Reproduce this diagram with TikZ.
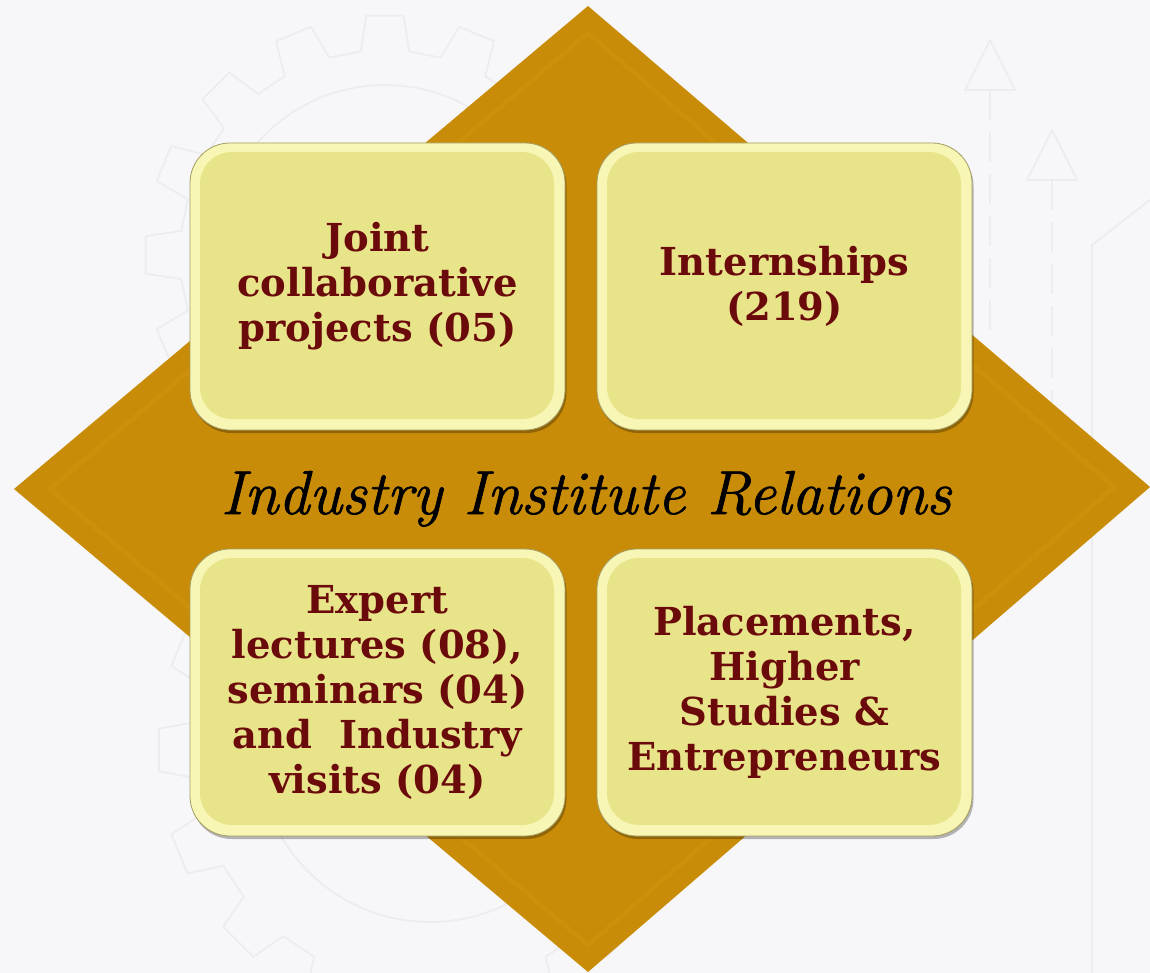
\documentclass[tikz,border=0pt]{standalone}
\usepackage{fontspec}
\newfontfamily\tilefont{DejaVu Serif}
\newfontfamily\headingfont[FakeBold=1.2]{Latin Modern Roman}
\usetikzlibrary{calc}

\definecolor{pagebg}{HTML}{F7F7F9}
\definecolor{markline}{HTML}{EDEDF0}
\definecolor{gold}{HTML}{C98C08}
\definecolor{goldinner}{HTML}{CD900B}
\definecolor{tilefill}{HTML}{E8E48A}
\definecolor{tilerim}{HTML}{F8F6B4}
\definecolor{tileedge}{HTML}{A39D64}
\definecolor{tiletext}{HTML}{6B0A0A}

\tikzset{
  watermark/.style={draw=markline, line width=1.8pt, line join=round},
  tile/.style={
    rounded corners=40pt, minimum width=375pt, minimum height=287pt,
    fill=tilerim, draw=tileedge, line width=0.8pt,
    align=center, text=tiletext, inner sep=0pt,
    font=\tilefont\bfseries\fontsize{38.5}{45}\selectfont,
    preaction={fill=black, opacity=0.28, transform canvas={shift={(1.5pt,-3pt)}}},
    path picture={
      \fill[tilefill, rounded corners=32pt]
        ([shift={(10pt,-9pt)}]path picture bounding box.north west) rectangle
        ([shift={(-11pt,11pt)}]path picture bounding box.south east);
    }
  },
  heading/.style={font=\headingfont\itshape\fontsize{62}{66}\selectfont, text=black, inner sep=0pt}
}

% draws a toothed ring outline around the current origin
\newcommand{\gearoutline}[4]{% teeth, outer radius, root radius, hole radius
  \pgfmathsetmacro{\gstep}{360/#1}
  \draw[watermark]
    \foreach \k in {1,...,#1}{
      \pgfextra{\pgfmathsetmacro{\ga}{\k*\gstep}}
      ($(\ga-0.30*\gstep:#3)$) -- ($(\ga-0.20*\gstep:#2)$) -- ($(\ga+0.20*\gstep:#2)$) -- ($(\ga+0.30*\gstep:#3)$) -- ($(\ga+0.70*\gstep:#3)$)
    } -- cycle;
  \draw[watermark] (0,0) circle[radius=#4];
}

\begin{document}
\begin{tikzpicture}[x=1pt, y=-1pt]
  \useasboundingbox (0,0) rectangle (1150,973);
  \fill[pagebg] (0,0) rectangle (1150,973);

  % faint engineering watermark: two gears and two rising arrows
  \begin{scope}[shift={(385,255)}]
    \gearoutline{16}{240}{205}{170}
  \end{scope}
  \begin{scope}[shift={(430,750)}]
    \gearoutline{16}{272}{237}{172}
  \end{scope}
  \coordinate (arrAtop) at (990,40);
  \coordinate (arrAbot) at (990,330);
  \coordinate (arrBtop) at (1052,130);
  \coordinate (arrBbot) at (1052,420);
  \draw[watermark, dashed, dash pattern=on 30pt off 12pt] (arrAbot) -- ($(arrAtop)+(0,50)$);
  \draw[watermark] (arrAtop) -- ++(-25,50) -- ++(50,0) -- cycle;
  \draw[watermark, dashed, dash pattern=on 30pt off 12pt] (arrBbot) -- ($(arrBtop)+(0,50)$);
  \draw[watermark] (arrBtop) -- ++(-25,50) -- ++(50,0) -- cycle;
  \draw[watermark] (1150,200) -- (1092,245) -- (1092,973);

  % golden diamond with a faint bevel
  \coordinate (dtop) at (588,6);
  \coordinate (dright) at (1150,487);
  \coordinate (dbottom) at (588,972);
  \coordinate (dleft) at (14,489);
  \fill[gold] (dtop) -- (dright) -- (dbottom) -- (dleft) -- cycle;
  \fill[goldinner] (588,30) -- (1118,487) -- (588,948) -- (46,489) -- cycle;
  \fill[gold] (588,36) -- (1110,487) -- (588,942) -- (54,489) -- cycle;

  % the four activity tiles
  \node[tile] (joint) at (377.5,286.5) {Joint\\collaborative\\projects (05)};
  \node[tile] (intern) at (784.5,286.5) {Internships\\(219)};
  \node[tile] (expert) at (377.5,692.5) {Expert\\lectures (08),\\seminars (04)\\and\ \ Industry\\visits (04)};
  \node[tile] (place) at (784.5,692.5) {Placements,\\Higher\\Studies \&\\Entrepreneurs};

  % central heading
  \node[heading, anchor=base] (title) at (586,514) {Industry Institute Relations};
\end{tikzpicture}
\end{document}
